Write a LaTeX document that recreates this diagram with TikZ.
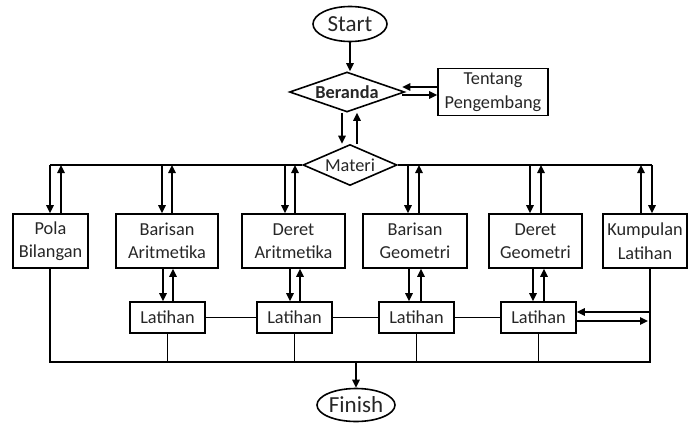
\documentclass[tikz,border=0pt]{standalone}
\usepackage{fontspec}
\setmainfont{Carlito}
\usetikzlibrary{shapes.geometric,arrows.meta}
\begin{document}
\begin{tikzpicture}[x=1pt,y=-1pt,
  every node/.style={font=\fontsize{18.3}{23.5}\selectfont, inner sep=0pt, align=center, text=black!85},
  termbox/.style={draw=black, ellipse, line width=1.6pt, font=\fontsize{23}{26}\selectfont},
  decbox/.style={draw=black, diamond, line width=1.6pt},
  procbox/.style={draw=black, rectangle, line width=1.6pt, minimum height=54pt},
  latbox/.style={draw=black, rectangle, line width=1.6pt, minimum width=75pt, minimum height=31pt},
  ln/.style={line width=1.6pt},
  arr/.style={line width=1.6pt, -{Triangle[length=8pt,width=7.5pt]}}]
\useasboundingbox (0,0) rectangle (688,423);

% terminals and decisions
\node[termbox, minimum width=74pt, minimum height=35pt] (start) at (350,24) {Start};
\node[decbox, aspect=2.875, minimum width=115pt, minimum height=40pt, font=\fontsize{18.3}{22}\selectfont\bfseries] (beranda) at (347,92) {Beranda};
\node[draw=black, rectangle, line width=1.6pt, minimum width=110pt, minimum height=47pt] (tentang) at (493,92) {Tentang\\Pengembang};
\node[decbox, aspect=2.3, minimum width=94pt, minimum height=41pt] (materi) at (350,165) {Materi};

% material boxes
\node[procbox, minimum width=75pt] (pola) at (50.5,241) {Pola\\Bilangan};
\node[procbox, minimum width=102pt] (barA) at (167,241) {Barisan\\Aritmetika};
\node[procbox, minimum width=103pt] (derA) at (293.5,241) {Deret\\Aritmetika};
\node[procbox, minimum width=104pt] (barG) at (415,241) {Barisan\\Geometri};
\node[procbox, minimum width=93pt] (derG) at (535.5,241) {Deret\\Geometri};
\node[procbox, minimum width=84pt] (kump) at (645,241) {Kumpulan\\Latihan};

% exercise boxes
\node[latbox] (lat1) at (167.5,317.5) {Latihan};
\node[latbox] (lat2) at (294.5,317.5) {Latihan};
\node[latbox] (lat3) at (416.5,317.5) {Latihan};
\node[latbox] (lat4) at (538.5,317.5) {Latihan};

\node[termbox, minimum width=78pt, minimum height=33pt] (finish) at (356,405) {Finish};
\coordinate (bb) at (356,362);
\coordinate (kline) at ([xshift=5pt]kump.south);
\coordinate (bx) at ([xshift=-3pt]beranda.east);

% top connectors
\draw[arr] (start) -- (start |- beranda.north);
\draw[arr] ([yshift=5pt]tentang.west) -- ([yshift=5pt]tentang.west -| bx);
\draw[arr] ([yshift=-3pt]tentang.west -| bx) -- ([yshift=-3pt]tentang.west);
\draw[arr] ([xshift=-5pt]beranda.south) -- ([xshift=-5pt]beranda.south |- materi.north);
\draw[arr] ([xshift=10pt]beranda.south |- materi.north) -- ([xshift=10pt]beranda.south);

% bus
\draw[ln] ([xshift=-0.5pt]pola.north |- materi.west) -- (materi.west);
\draw[ln] (materi.east) -- ([xshift=7pt]kump.north |- materi.east);

% bus to boxes
\draw[arr] ([xshift=-0.5pt]pola.north |- materi.west) -- ([xshift=-0.5pt]pola.north);
\draw[arr] ([xshift=10.5pt]pola.north) -- ([xshift=10.5pt]pola.north |- materi.west);
\draw[arr] ([xshift=-5pt]barA.north |- materi.west) -- ([xshift=-5pt]barA.north);
\draw[arr] ([xshift=5pt]barA.north) -- ([xshift=5pt]barA.north |- materi.west);
\draw[arr] ([xshift=-8.5pt]derA.north |- materi.west) -- ([xshift=-8.5pt]derA.north);
\draw[arr] ([xshift=1.5pt]derA.north) -- ([xshift=1.5pt]derA.north |- materi.west);
\draw[arr] ([xshift=-7pt]barG.north |- materi.west) -- ([xshift=-7pt]barG.north);
\draw[arr] ([xshift=4pt]barG.north) -- ([xshift=4pt]barG.north |- materi.west);
\draw[arr] ([xshift=-5.5pt]derG.north |- materi.west) -- ([xshift=-5.5pt]derG.north);
\draw[arr] ([xshift=5.5pt]derG.north) -- ([xshift=5.5pt]derG.north |- materi.west);
\draw[arr] ([xshift=-4pt]kump.north) -- ([xshift=-4pt]kump.north |- materi.west);
\draw[arr] ([xshift=7pt]kump.north |- materi.west) -- ([xshift=7pt]kump.north);

% boxes to exercises
\draw[arr] ([xshift=-4.5pt]lat1.north |- barA.south) -- ([xshift=-4.5pt]lat1.north);
\draw[arr] ([xshift=5.5pt]lat1.north) -- ([xshift=5.5pt]lat1.north |- barA.south);
\draw[arr] ([xshift=-4.5pt]lat2.north |- derA.south) -- ([xshift=-4.5pt]lat2.north);
\draw[arr] ([xshift=5.5pt]lat2.north) -- ([xshift=5.5pt]lat2.north |- derA.south);
\draw[arr] ([xshift=-7.5pt]lat3.north |- barG.south) -- ([xshift=-7.5pt]lat3.north);
\draw[arr] ([xshift=4.5pt]lat3.north) -- ([xshift=4.5pt]lat3.north |- barG.south);
\draw[arr] ([xshift=-5.5pt]lat4.north |- derG.south) -- ([xshift=-5.5pt]lat4.north);
\draw[arr] ([xshift=5.5pt]lat4.north) -- ([xshift=5.5pt]lat4.north |- derG.south);

% exercise chain
\draw[ln] (lat1.east) -- (lat2.west);
\draw[ln] (lat2.east) -- (lat3.west);
\draw[ln] (lat3.east) -- (lat4.west);
\draw[arr] ([yshift=5.5pt]lat4.east -| kline) -- ([yshift=5.5pt]lat4.east);
\draw[arr] ([yshift=-3.5pt]lat4.east) -- ([yshift=-3.5pt,xshift=-2pt]lat4.east -| kline);

% bottom bus
\draw[ln] ([xshift=-0.5pt]pola.south) |- (kline |- bb) -- (kline);
\draw[ln] (lat1.south) -- (lat1.south |- bb);
\draw[ln] (lat2.south) -- (lat2.south |- bb);
\draw[ln] (lat3.south) -- (lat3.south |- bb);
\draw[ln] (lat4.south) -- (lat4.south |- bb);
\draw[arr] (bb) -- (finish.north);
\end{tikzpicture}
\end{document}
